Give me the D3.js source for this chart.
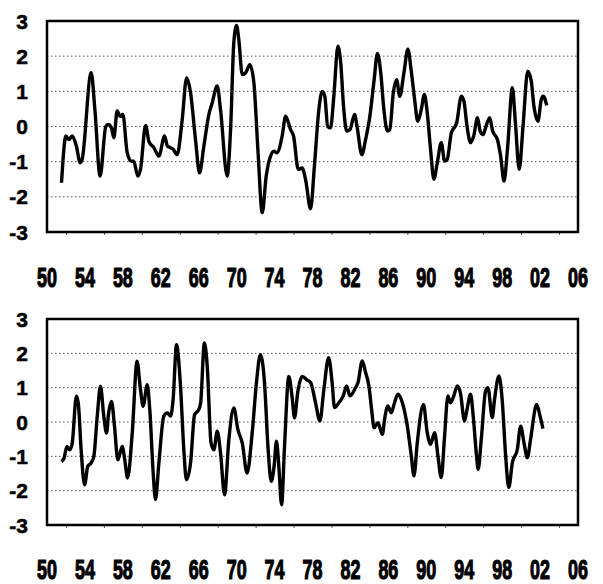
<!DOCTYPE html>
<html>
<head>
<meta charset="utf-8">
<script src="https://cdn.jsdelivr.net/npm/d3@7"></script>
<style>
  body { margin: 0; background: #fff; }
  text { font-family: "Liberation Sans", Arial, sans-serif; font-weight: bold; fill: #000; stroke: #000; }
</style>
</head>
<body>
<div id="chart"></div>
<script>
var width = 603, height = 584;

// year labels on the x axis
var tickYears = [1950, 1954, 1958, 1962, 1966, 1970, 1974, 1978, 1982, 1986, 1990, 1994, 1998, 2002, 2006];
var tickLabels = ["50", "54", "58", "62", "66", "70", "74", "78", "82", "86", "90", "94", "98", "02", "06"];
var yTicks = [-3, -2, -1, 0, 1, 2, 3];

// top series
var topYears = [1951.53, 1952.0, 1952.3, 1952.66, 1953.1, 1953.5, 1953.7, 1954.66, 1955.05, 1955.6,
  1956.2, 1956.45, 1956.8, 1957.05, 1957.4, 1957.7, 1958.0, 1958.46, 1958.9, 1959.15,
  1959.58, 1959.86, 1960.4, 1960.74, 1961.27, 1961.8, 1962.4, 1962.7, 1963.03, 1963.3,
  1963.73, 1964.26, 1964.72, 1965.14, 1965.66, 1966.09, 1966.54, 1967.07, 1967.42, 1967.95,
  1968.3, 1969.0, 1969.36, 1969.7, 1969.99, 1970.23, 1970.59, 1970.95, 1971.39, 1971.82,
  1972.24, 1972.7, 1973.12, 1973.58, 1973.92, 1974.25, 1974.8, 1975.16, 1975.69, 1976.0,
  1976.5, 1976.9, 1977.27, 1977.8, 1978.2, 1978.67, 1979.03, 1979.3, 1979.6, 1979.9,
  1980.25, 1980.68, 1980.96, 1981.3, 1981.6, 1981.95, 1982.44, 1982.7, 1983.2, 1983.6,
  1984.05, 1984.5, 1984.85, 1985.2, 1985.53, 1985.9, 1986.15, 1986.52, 1986.87, 1987.2,
  1987.64, 1988.06, 1988.4, 1988.77, 1989.1, 1989.47, 1989.8, 1990.1, 1990.45, 1990.8,
  1991.16, 1991.58, 1991.93, 1992.2, 1992.64, 1993.2, 1993.7, 1993.97, 1994.3, 1994.67,
  1995.0, 1995.4, 1995.68, 1996.0, 1996.25, 1996.68, 1997.0, 1997.5, 1997.84, 1998.2,
  1998.56, 1999.08, 1999.4, 1999.8, 2000.2, 2000.7, 2001.07, 2001.35, 2001.77, 2002.13,
  2002.34, 2002.7];
var topValues = [-1.60, -0.27, -0.37, -0.27, -0.56, -1.03, -0.94, 1.53, 0.48, -1.41,
  0.0, 0.06, -0.04, -0.32, 0.44, 0.29, 0.34, -0.75, -0.99, -0.99,
  -1.41, -1.22, 0.03, -0.42, -0.6, -0.84, -0.27, -0.56, -0.6, -0.65,
  -0.8, 0.2, 1.38, 0.96, -0.37, -1.32, -0.56, 0.34, 0.67, 1.15,
  0.48, -1.41, -0.09, 2.38, 2.87, 2.47, 1.48, 1.53, 1.76, 1.24,
  -0.65, -2.45, -1.41, -0.84, -0.7, -0.75, -0.27, 0.29, -0.09, -0.27,
  -1.22, -1.18, -1.51, -2.34, -1.13, 0.48, 1.0, 0.86, 0.0, -0.04,
  0.86, 2.28, 1.86, 0.48, -0.13, -0.09, 0.34, 0.0, -0.8, -0.37,
  0.29, 1.33, 2.08, 1.52, 0.48, -0.13, -0.09, 0.95, 1.33, 0.86,
  1.52, 2.2, 1.61, 0.77, 0.15, 0.48, 0.91, 0.39, -0.65, -1.5,
  -1.03, -0.46, -0.98, -0.94, -0.18, 0.1, 0.86, 0.72, 0.0, -0.46,
  -0.27, 0.25, -0.13, -0.23, -0.04, 0.25, -0.13, -0.37, -0.84, -1.55,
  -0.65, 1.1, 0.1, -1.22, 0.0, 1.57, 1.29, 0.58, 0.15, 0.77,
  0.86, 0.6];

// bottom series
var bottomYears = [1951.53, 1951.8, 1952.1, 1952.4, 1952.66, 1953.1, 1953.3, 1953.6, 1953.96, 1954.3,
  1954.66, 1954.94, 1955.3, 1955.64, 1955.99, 1956.28, 1956.5, 1956.8, 1957.12, 1957.47,
  1957.93, 1958.2, 1958.5, 1958.99, 1959.5, 1959.86, 1960.14, 1960.57, 1960.84, 1961.2,
  1961.44, 1961.8, 1962.32, 1962.7, 1963.03, 1963.3, 1963.66, 1964.08, 1964.43, 1964.7,
  1965.14, 1965.56, 1966.0, 1966.2, 1966.6, 1966.9, 1967.3, 1967.6, 1967.95, 1968.3,
  1968.72, 1969.18, 1969.7, 1970.13, 1970.59, 1971.1, 1971.64, 1972.1, 1972.5, 1972.94,
  1973.3, 1973.65, 1973.95, 1974.2, 1974.45, 1974.74, 1975.05, 1975.5, 1975.86, 1976.1,
  1976.46, 1976.92, 1977.44, 1977.8, 1978.32, 1978.78, 1979.2, 1979.7, 1980.07, 1980.32,
  1980.78, 1981.24, 1981.6, 1981.94, 1982.54, 1982.8, 1983.25, 1983.6, 1983.95, 1984.23,
  1984.5, 1984.9, 1985.37, 1985.6, 1985.95, 1986.3, 1986.65, 1987.0, 1987.48, 1988.0,
  1988.42, 1988.7, 1989.05, 1989.7, 1990.1, 1990.45, 1990.88, 1991.23, 1991.58, 1991.93,
  1992.28, 1992.56, 1992.9, 1993.27, 1993.6, 1994.03, 1994.3, 1994.67, 1994.95, 1995.3,
  1995.47, 1995.8, 1996.25, 1996.5, 1996.96, 1997.2, 1997.66, 1998.0, 1998.37, 1998.7,
  1999.08, 1999.6, 1999.95, 2000.3, 2000.66, 2001.0, 2001.64, 2002.0, 2002.3];
var bottomValues = [-1.15, -1.05, -0.71, -0.81, -0.61, 0.75, 0.55, -0.81, -1.83, -1.29,
  -1.19, -1.0, 0.17, 1.04, 0.17, -0.32, 0.26, 0.6, -0.13, -1.1,
  -0.71, -1.1, -1.63, -0.32, 1.77, 0.94, 0.46, 1.09, 0.36, -1.49,
  -2.26, -1.19, 0.17, 0.26, 0.17, 0.65, 2.25, 1.04, -0.81, -1.68,
  -1.19, 0.21, 0.36, 0.55, 2.3, 1.62, -0.61, -0.81, -0.27, -0.9,
  -2.12, -0.51, 0.41, -0.22, -0.61, -1.49, -0.32, 1.18, 1.96, 1.14,
  -0.71, -1.73, -1.29, -0.56, -1.29, -2.41, -0.71, 1.33, 0.7, 0.12,
  0.9, 1.33, 1.22, 1.15, 0.56, 0.03, 0.95, 1.87, 1.15, 0.42,
  0.56, 0.76, 1.05, 0.76, 1.0, 1.15, 1.78, 1.44, 1.05, 0.37,
  -0.17, -0.02, -0.36, 0.08, 0.47, 0.27, 0.56, 0.81, 0.56, -0.12,
  -0.99, -1.57, -0.6, 0.51, -0.31, -0.65, -0.31, -0.99, -1.62, -0.41,
  0.76, 0.56, 0.76, 1.05, 0.85, 0.03, 0.37, 0.81, 0.17, -0.99,
  -1.38, -0.5, 0.9, 1.0, 0.13, 0.66, 1.34, 0.66, -0.99, -1.91,
  -1.18, -0.8, -0.12, -0.6, -1.04, -0.5, 0.51, 0.17, -0.19];

var svg = d3.select("#chart").append("svg")
  .attr("width", width)
  .attr("height", height);

var x = d3.scaleLinear()
  .domain([1950, 2006])
  .range([47, 578]);

// draw one panel
function drawPanel(years, values, top, bottom, labelY) {
  var y = d3.scaleLinear()
    .domain([-3, 3])
    .range([bottom, top]);

  var g = svg.append("g");

  // dotted grid lines
  g.selectAll("line.grid")
    .data(yTicks.filter(function(d) { return d > -3 && d < 3; }))
    .enter().append("line")
    .attr("class", "grid")
    .attr("x1", x.range()[0]).attr("x2", x.range()[1])
    .attr("y1", function(d) { return y(d); })
    .attr("y2", function(d) { return y(d); })
    .attr("stroke", "#555")
    .attr("stroke-width", 1)
    .attr("stroke-dasharray", "1.5,2.5");

  // small ticks on the bottom edge
  var tg = g.append("g")
    .attr("transform", "translate(0," + bottom + ")")
    .call(d3.axisBottom(x)
      .tickValues(tickYears.slice(0, -1).map(function(d) { return d + 2; }))
      .tickSize(3)
      .tickFormat(""));
  tg.select(".domain").remove();
  tg.selectAll("line").attr("stroke", "#555");

  // y labels
  g.selectAll("text.ylab")
    .data(yTicks)
    .enter().append("text")
    .attr("class", "ylab")
    .attr("x", 28)
    .attr("y", function(d) { return y(d); })
    .attr("dy", "0.36em")
    .attr("text-anchor", "end")
    .style("font-size", "21px")
    .style("stroke-width", "0.5px")
    .text(function(d) { return d; });

  // the series
  var line = d3.line()
    .x(function(d, i) { return x(years[i]); })
    .y(function(d) { return y(d); })
    .curve(d3.curveMonotoneX);

  g.append("path")
    .datum(values)
    .attr("fill", "none")
    .attr("stroke", "#000")
    .attr("stroke-width", 3.4)
    .attr("stroke-linejoin", "round")
    .attr("d", line);

  // box
  g.append("rect")
    .attr("x", x.range()[0])
    .attr("y", top)
    .attr("width", x.range()[1] - x.range()[0])
    .attr("height", bottom - top)
    .attr("fill", "none")
    .attr("stroke", "#000")
    .attr("stroke-width", 2.5);

  // year labels, narrow
  g.selectAll("text.xlab")
    .data(tickYears)
    .enter().append("text")
    .attr("class", "xlab")
    .attr("transform", function(d) { return "translate(" + x(d) + "," + labelY + ") scale(0.64,1)"; })
    .attr("text-anchor", "middle")
    .style("font-size", "28px")
    .style("stroke-width", "1.2px")
    .text(function(d, i) { return tickLabels[i]; });
}

drawPanel(topYears, topValues, 21, 232, 287);
drawPanel(bottomYears, bottomValues, 319, 525, 579);
</script>
</body>
</html>
